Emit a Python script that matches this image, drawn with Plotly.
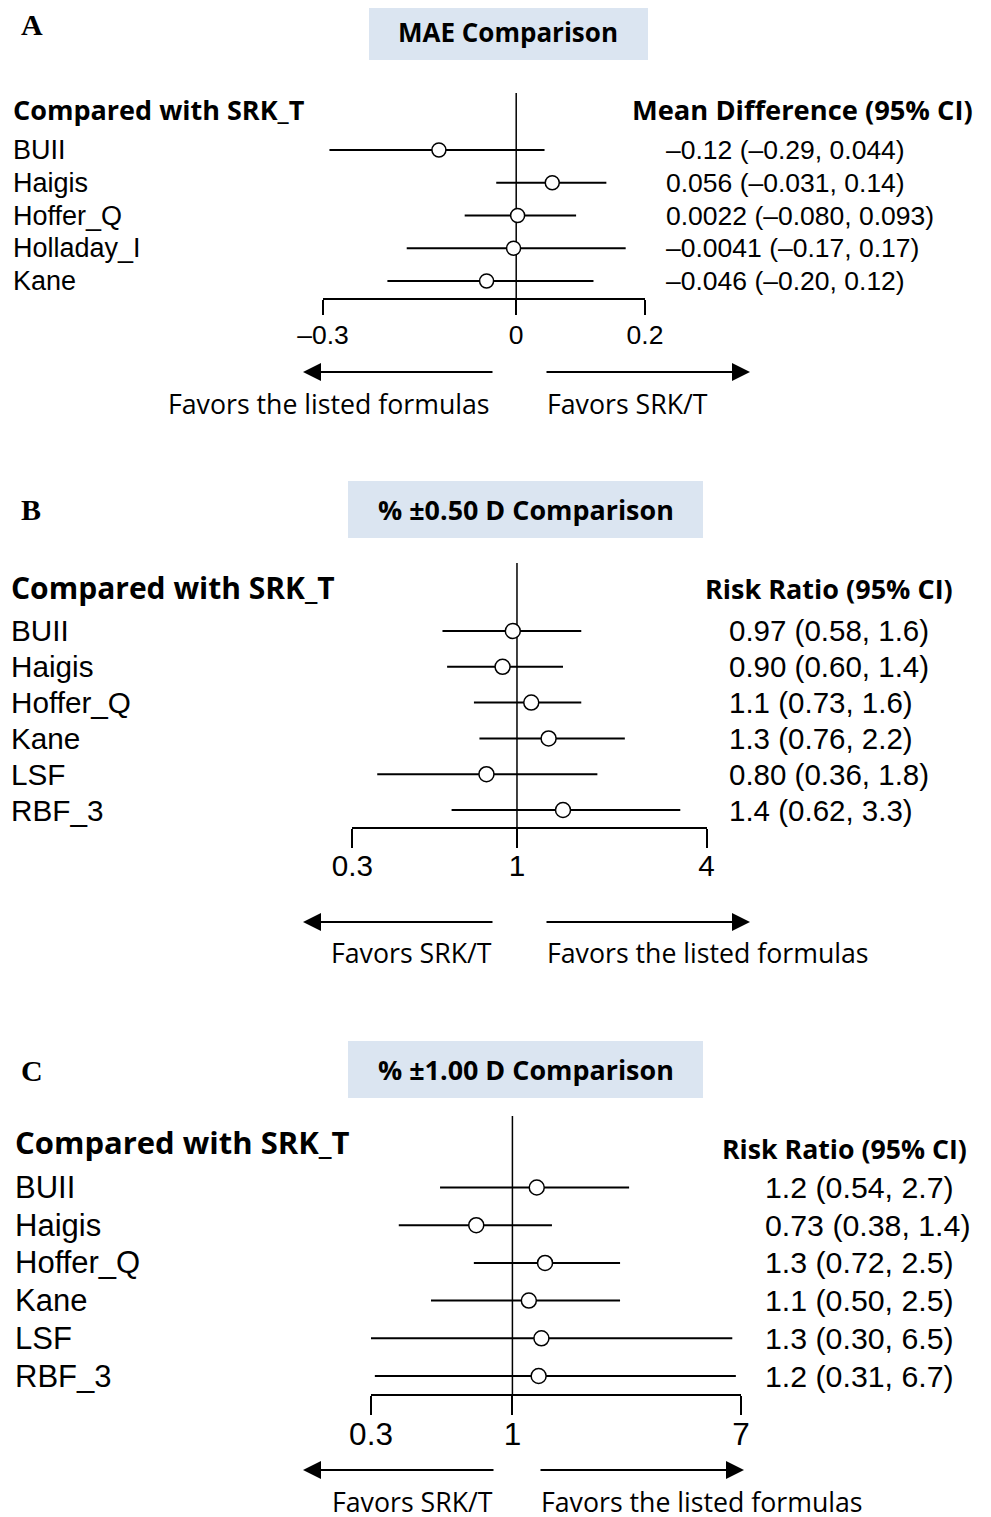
import math
import plotly.graph_objects as go

W, H = 991, 1517
OFF = 8  # page body margin in the viewer

# ---------------- data ----------------
formulas_a = ["BUII", "Haigis", "Hoffer_Q", "Holladay_I", "Kane"]
md_a = [-0.12, 0.056, 0.0022, -0.0041, -0.046]
lo_a = [-0.29, -0.031, -0.080, -0.17, -0.20]
hi_a = [0.044, 0.14, 0.093, 0.17, 0.12]
text_a = ["–0.12 (–0.29, 0.044)", "0.056 (–0.031, 0.14)", "0.0022 (–0.080, 0.093)",
          "–0.0041 (–0.17, 0.17)", "–0.046 (–0.20, 0.12)"]
ticks_a = [-0.3, 0, 0.2]
ticktext_a = ["–0.3", "0", "0.2"]

formulas_b = ["BUII", "Haigis", "Hoffer_Q", "Kane", "LSF", "RBF_3"]
rr_b = [0.97, 0.90, 1.11, 1.26, 0.80, 1.40]
lo_b = [0.58, 0.60, 0.73, 0.76, 0.36, 0.62]
hi_b = [1.6, 1.4, 1.6, 2.2, 1.8, 3.3]
text_b = ["0.97 (0.58, 1.6)", "0.90 (0.60, 1.4)", "1.1 (0.73, 1.6)",
          "1.3 (0.76, 2.2)", "0.80 (0.36, 1.8)", "1.4 (0.62, 3.3)"]
ticks_b = [0.3, 1, 4]

formulas_c = ["BUII", "Haigis", "Hoffer_Q", "Kane", "LSF", "RBF_3"]
rr_c = [1.23, 0.735, 1.32, 1.15, 1.28, 1.25]
lo_c = [0.54, 0.38, 0.72, 0.50, 0.30, 0.31]
hi_c = [2.7, 1.4, 2.5, 2.5, 6.5, 6.7]
text_c = ["1.2 (0.54, 2.7)", "0.73 (0.38, 1.4)", "1.3 (0.72, 2.5)",
          "1.1 (0.50, 2.5)", "1.3 (0.30, 6.5)", "1.2 (0.31, 6.7)"]
ticks_c = [0.3, 1, 7]

# ---------------- layout helpers ----------------
def px(x):
    return (x - OFF) / W

def py(y):
    return 1 - (y - OFF) / H

SANS = "Liberation Sans"
OPEN = "Open Sans"
SERIF = "Liberation Serif"

fig = go.Figure()
annotations = []
shapes = []


def txt(s, x, y, size, family=SANS, anchor="left", bold=False):
    annotations.append(dict(
        text=("<b>%s</b>" % s) if bold else s, x=px(x), y=py(y),
        xref="paper", yref="paper", xanchor=anchor, yanchor="middle",
        showarrow=False, font=dict(family=family, size=size, color="black")))


def arrow(x_tail, x_head, y):
    annotations.append(dict(
        text="", x=px(x_head), y=py(y), xref="paper", yref="paper",
        ax=x_tail - x_head, ay=0, showarrow=True, arrowhead=2,
        arrowsize=1.8, arrowwidth=2, arrowcolor="black", standoff=0))


panels = [
    dict(name="A", title="MAE Comparison", box=(369, 4, 648, 60), title_size=26,
         letter_y=24, names=formulas_a, est=md_a, lo=lo_a, hi=hi_a, labels=text_a,
         ref=0, log=False, xr=[-0.3, 0.2], xdom=(323, 645), tickvals=ticks_a,
         ticktext=ticktext_a, tick_size=26.5, ticklen=15, tstand=-3,
         top=93, bottom=298, row0=150, sp=32.75,
         head_y=109, head_size=27, head_x=11, right_head="Mean Difference (95% CI)",
         rh_x=975, rh_y=109, rh_size=27.3, lab_x=11, lab_size=27, val_x=664, val_size=26.5,
         arrow_y=372, fav_y=403, left_txt="Favors the listed formulas",
         right_txt="Favors SRK/T", larrow=(494, 303), rarrow=(545, 750),
         ltxt_x=492, rtxt_x=545, fav_size=26.7, msize=14),
    dict(name="B", title="% ±0.50 D Comparison", box=(348, 481, 703, 538), title_size=26.9,
         letter_y=509, names=formulas_b, est=rr_b, lo=lo_b, hi=hi_b, labels=text_b,
         ref=1, log=True, xr=[math.log10(0.3), math.log10(4)], xdom=(352.3, 706.6),
         tickvals=ticks_b, ticktext=["0.3", "1", "4"], tick_size=29.7, ticklen=19, tstand=-8,
         top=563, bottom=827, row0=631, sp=35.8,
         head_y=587, head_size=30, head_x=9, right_head="Risk Ratio (95% CI)",
         rh_x=955, rh_y=588, rh_size=27, lab_x=9, lab_size=29.7, val_x=727, val_size=29.5,
         arrow_y=922, fav_y=952, left_txt="Favors SRK/T",
         right_txt="Favors the listed formulas", larrow=(494, 303), rarrow=(545, 750),
         ltxt_x=494, rtxt_x=545, fav_size=26.7, msize=15),
    dict(name="C", title="% ±1.00 D Comparison", box=(348, 1041, 703, 1098), title_size=26.9,
         letter_y=1070, names=formulas_c, est=rr_c, lo=lo_c, hi=hi_c, labels=text_c,
         ref=1, log=True, xr=[math.log10(0.3), math.log10(7)], xdom=(371, 741),
         tickvals=ticks_c, ticktext=["0.3", "1", "7"], tick_size=31.5, ticklen=19, tstand=-8,
         top=1116, bottom=1394, row0=1187.5, sp=37.7,
         head_y=1142, head_size=31, head_x=13, right_head="Risk Ratio (95% CI)",
         rh_x=969, rh_y=1148, rh_size=26.7, lab_x=13, lab_size=31, val_x=763, val_size=30.3,
         arrow_y=1470, fav_y=1501, left_txt="Favors SRK/T",
         right_txt="Favors the listed formulas", larrow=(495, 303), rarrow=(539, 744),
         ltxt_x=495, rtxt_x=539, fav_size=26.7, msize=15),
]

layout_axes = {}
for k, p in enumerate(panels):
    sfx = "" if k == 0 else str(k + 1)
    xa, ya = "x" + sfx, "y" + sfx
    n = len(p["names"])
    rows = list(range(n))
    v_top = (p["top"] - p["row0"]) / p["sp"]
    v_bot = (p["bottom"] - p["row0"]) / p["sp"]

    # reference line
    fig.add_trace(go.Scatter(x=[p["ref"], p["ref"]], y=[v_top, v_bot], mode="lines",
                             line=dict(color="black", width=1.5), xaxis=xa, yaxis=ya,
                             showlegend=False, hoverinfo="skip"))
    # CI lines
    for i in rows:
        fig.add_trace(go.Scatter(x=[p["lo"][i], p["hi"][i]], y=[i, i], mode="lines",
                                 line=dict(color="black", width=2), xaxis=xa, yaxis=ya,
                                 showlegend=False, hoverinfo="skip"))
    # point estimates
    fig.add_trace(go.Scatter(x=p["est"], y=rows, mode="markers",
                             marker=dict(symbol="circle", size=p["msize"], color="white",
                                         line=dict(color="black", width=1.5)),
                             xaxis=xa, yaxis=ya, showlegend=False, cliponaxis=False))

    layout_axes["xaxis" + sfx] = dict(
        domain=[px(p["xdom"][0]), px(p["xdom"][1])], anchor=ya,
        type="log" if p["log"] else "linear", range=p["xr"],
        tickvals=p["tickvals"], ticktext=p["ticktext"], ticks="outside",
        ticklen=p["ticklen"], tickwidth=1.5, tickcolor="black",
        ticklabelstandoff=p["tstand"], automargin=False,
        showline=True, linecolor="black", linewidth=2, showgrid=False,
        zeroline=False, tickfont=dict(family=SANS, size=p["tick_size"], color="black"),
        fixedrange=True)
    layout_axes["yaxis" + sfx] = dict(
        domain=[py(p["bottom"]), py(p["top"])], anchor=xa, range=[v_bot, v_top],
        visible=False, fixedrange=True, automargin=False)

    # title box
    x0, y0, x1, y1 = p["box"]
    shapes.append(dict(type="rect", xref="paper", yref="paper", x0=px(x0), x1=px(x1),
                       y0=py(y1), y1=py(y0), fillcolor="#dbe5f1", line=dict(width=0),
                       layer="below"))
    txt(p["title"], (x0 + x1) / 2, (y0 + y1) / 2, p["title_size"], OPEN, "center", True)
    # panel letter
    txt(p["name"], 19, p["letter_y"], 30, SERIF, "left", True)
    # headers
    txt("Compared with SRK_T", p["head_x"], p["head_y"], p["head_size"], OPEN, "left", True)
    txt(p["right_head"], p["rh_x"], p["rh_y"], p["rh_size"], OPEN, "right", True)
    # row labels and values
    for i in rows:
        yy = p["row0"] + i * p["sp"]
        txt(p["names"][i], p["lab_x"], yy, p["lab_size"], SANS, "left")
        txt(p["labels"][i], p["val_x"], yy, p["val_size"], SANS, "left")
    # arrows and favour texts
    arrow(p["larrow"][0], p["larrow"][1], p["arrow_y"])
    arrow(p["rarrow"][0], p["rarrow"][1], p["arrow_y"])
    txt(p["left_txt"], p["ltxt_x"], p["fav_y"], p["fav_size"], OPEN, "right")
    txt(p["right_txt"], p["rtxt_x"], p["fav_y"], p["fav_size"], OPEN, "left")

fig.update_layout(
    template="none", autosize=False,
    width=W, height=H, margin=dict(l=0, r=0, t=0, b=0, pad=0),
    paper_bgcolor="white", plot_bgcolor="rgba(0,0,0,0)",
    annotations=annotations, shapes=shapes, showlegend=False,
    **layout_axes)

fig.write_html("out.html")
